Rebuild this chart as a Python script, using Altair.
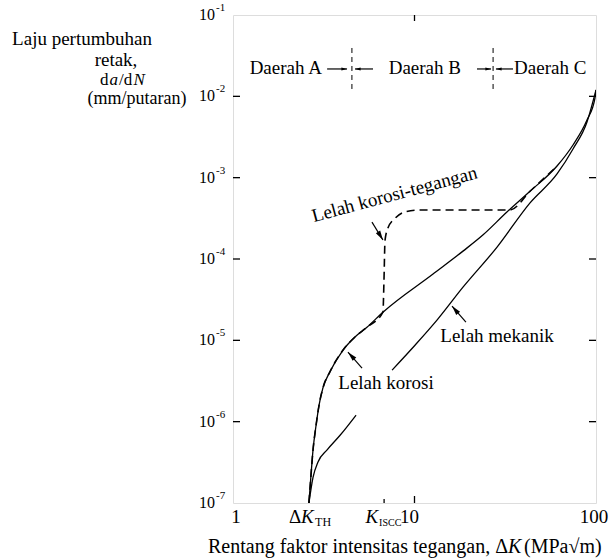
import altair as alt
import pandas as pd

# ---------------- data ----------------
# Lelah korosi (corrosion fatigue), solid
korosi_dK = [2.62, 2.69, 2.76, 2.87, 2.98, 3.13, 3.42, 4.04, 4.70, 5.47, 6.70,
             12.6, 18.5, 23.8, 32.3, 43.3, 61.0, 74.7, 89.2, 98.7, 100]
korosi_rate = [1e-7, 2.2e-7, 4.5e-7, 9.1e-7, 1.6e-6, 2.6e-6, 4.1e-6, 7.6e-6, 1.10e-5,
               1.45e-5, 2.22e-5, 6.5e-5, 1.25e-4, 1.97e-4, 3.78e-4, 6.8e-4, 1.39e-3,
               2.52e-3, 5.1e-3, 9.5e-3, 1.2e-2]

# Lelah mekanik (mechanical fatigue), solid, interrupted by the label
mek_low_dK = [2.62, 2.76, 2.94, 3.30, 3.89, 4.76]
mek_low_rate = [1e-7, 2.07e-7, 3.2e-7, 4.5e-7, 6.8e-7, 1.2e-6]
mek_up_dK = [7.52, 10.06, 13.3, 18.5, 28.5, 43.3, 61.0, 74.7, 89.2, 100]
mek_up_rate = [4.3e-6, 8.7e-6, 1.77e-5, 4.5e-5, 1.40e-4, 4.9e-4, 1.11e-3, 2.25e-3,
               4.83e-3, 1.2e-2]

# Lelah korosi-tegangan (stress-corrosion fatigue), dashed
scc_dK = [2.62, 2.69, 2.76, 2.87, 2.98, 3.13, 3.42, 4.04, 4.70, 5.47, 6.70,
          6.79, 6.88, 7.14, 7.81, 8.87, 10.7, 33.5, 43.3, 61.0]
scc_rate = [1e-7, 2.2e-7, 4.5e-7, 9.1e-7, 1.6e-6, 2.6e-6, 4.1e-6, 7.6e-6, 1.10e-5,
            1.45e-5, 2.22e-5, 5.5e-5, 1.7e-4, 2.4e-4, 3.16e-4, 3.8e-4, 4.0e-4,
            4.0e-4, 6.8e-4, 1.39e-3]

# axes
y_exponents = [-1, -2, -3, -4, -5, -6, -7]
y_inner_ticks = [1e-2, 1e-3, 1e-4, 1e-5, 1e-6]
dK_TH = 2.66
K_ISCC = 6.8
x_plain_labels = ["1", "10", "100"]
x_plain_values = [1, 10, 100]

# regions
region_bounds = [4.52, 27.1]
region_line_top = 0.0393
region_line_bottom = 0.012
region_label_rate = 0.0188
region_arrow_rate = 0.0217
daerah_B_dK = 11.4
region_arrow_from = [3.30, 5.91, 22.1, 34.9]
region_arrow_to = [4.25, 4.70, 26.4, 28.1]

# annotations
ann_text = ["Lelah  mekanik", "Lelah  korosi"]
ann_dK = [28.5, 6.97]
ann_rate = [9.5e-6, 2.51e-6]
scc_label = "Lelah  korosi-tegangan"
scc_label_dK = 7.91
scc_label_rate = 5.3e-4
arrow_tail_dK = [5.83, 19.2, 5.14]
arrow_tail_rate = [2.84e-4, 1.67e-5, 4.55e-6]
arrow_tip_dK = [6.70, 16.1, 4.30]
arrow_tip_rate = [1.71e-4, 2.64e-5, 7.16e-6]

# ---------------- chart ----------------
F = "Liberation Serif"
W, H = 363, 488
XS = alt.Scale(type="log", domain=[1, 100])
YS = alt.Scale(type="log", domain=[1e-7, 1e-1])


def xq(f="dK"):
    return alt.X(f"{f}:Q", scale=XS, axis=None)


def yq(f="rate"):
    return alt.Y(f"{f}:Q", scale=YS, axis=None)


layers = []


def curve(xs, ys, dash=None, width=1.3):
    kw = dict(color="black", strokeWidth=width, interpolate="monotone", clip=True)
    if dash:
        kw["strokeDash"] = dash
    return alt.Chart(pd.DataFrame({"dK": xs, "rate": ys})).mark_line(**kw).encode(
        x=xq(), y=yq())


layers.append(curve(korosi_dK, korosi_rate))
layers.append(curve(mek_low_dK, mek_low_rate))
layers.append(curve(mek_up_dK, mek_up_rate))
layers.append(curve(scc_dK, scc_rate, dash=[8, 5], width=1.6))

# inward ticks
tick_df = pd.DataFrame({"rate": y_inner_ticks})
layers.append(alt.Chart(tick_df).mark_rule(color="black", strokeWidth=1.3).encode(
    y=yq(), x=alt.value(0), x2=alt.value(7)))
layers.append(alt.Chart(tick_df).mark_rule(color="black", strokeWidth=1.3).encode(
    y=yq(), x=alt.value(W - 7), x2=alt.value(W)))
layers.append(alt.Chart(pd.DataFrame({"dK": [10]})).mark_rule(color="black", strokeWidth=1.3).encode(
    x=xq(), y=alt.value(H), y2=alt.value(H - 7)))
layers.append(alt.Chart(pd.DataFrame({"dK": [K_ISCC]})).mark_rule(color="black", strokeWidth=1.3).encode(
    x=xq(), y=alt.value(H), y2=alt.value(H - 4)))
layers.append(alt.Chart(pd.DataFrame({"dK": [10]})).mark_rule(color="black", strokeWidth=1.3).encode(
    x=xq(), y=alt.value(0), y2=alt.value(6)))

# y tick labels 10^n
ydf = pd.DataFrame({"rate": [10.0 ** e for e in y_exponents],
                    "base": ["10"] * len(y_exponents),
                    "sup": [str(e) for e in y_exponents]})
layers.append(alt.Chart(ydf).mark_text(font=F, fontSize=16, align="right", baseline="middle").encode(
    y=yq(), x=alt.value(-18), text="base:N"))
layers.append(alt.Chart(ydf).mark_text(font=F, fontSize=11, align="left", baseline="middle", dy=-7).encode(
    y=yq(), x=alt.value(-17), text="sup:N"))

# x tick labels
xl_y = H + 20
for lab, val, dx in zip(x_plain_labels, x_plain_values, [3, -5, -2]):
    layers.append(alt.Chart(pd.DataFrame({"dK": [val], "t": [lab]})).mark_text(
        font=F, fontSize=19, align="center", baseline="alphabetic", dx=dx).encode(
        x=xq(), y=alt.value(xl_y), text="t:N"))
layers.append(alt.Chart(pd.DataFrame({"dK": [dK_TH], "t": ["Δ"]})).mark_text(
    font=F, fontSize=19, align="right", baseline="alphabetic", dx=-9).encode(
    x=xq(), y=alt.value(xl_y), text="t:N"))
layers.append(alt.Chart(pd.DataFrame({"dK": [dK_TH], "t": ["K"]})).mark_text(
    font=F, fontSize=19, fontStyle="italic", align="left", baseline="alphabetic", dx=-9).encode(
    x=xq(), y=alt.value(xl_y), text="t:N"))
layers.append(alt.Chart(pd.DataFrame({"dK": [dK_TH], "t": ["TH"]})).mark_text(
    font=F, fontSize=12, align="left", baseline="alphabetic", dx=5, dy=3).encode(
    x=xq(), y=alt.value(xl_y), text="t:N"))
layers.append(alt.Chart(pd.DataFrame({"dK": [K_ISCC], "t": ["K"]})).mark_text(
    font=F, fontSize=19, fontStyle="italic", align="right", baseline="alphabetic", dx=-6).encode(
    x=xq(), y=alt.value(xl_y), text="t:N"))
layers.append(alt.Chart(pd.DataFrame({"dK": [K_ISCC], "t": ["ISCC"]})).mark_text(
    font=F, fontSize=10, align="left", baseline="alphabetic", dx=-5, dy=3).encode(
    x=xq(), y=alt.value(xl_y), text="t:N"))

# x axis title
tt_y = H + 50
layers.append(alt.Chart(pd.DataFrame({"t": ["Rentang faktor intensitas tegangan,  Δ"]})).mark_text(
    font=F, fontSize=20, align="right", baseline="alphabetic").encode(
    x=alt.value(275), y=alt.value(tt_y), text="t:N"))
layers.append(alt.Chart(pd.DataFrame({"t": ["K"]})).mark_text(
    font=F, fontSize=20, fontStyle="italic", align="left", baseline="alphabetic").encode(
    x=alt.value(275), y=alt.value(tt_y), text="t:N"))
layers.append(alt.Chart(pd.DataFrame({"t": ["(MPa√m)"]})).mark_text(
    font=F, fontSize=20, align="left", baseline="alphabetic").encode(
    x=alt.value(291), y=alt.value(tt_y), text="t:N"))

# y axis title (block left of the axis)
for t, xv, yv, fs in [("Laju  pertumbuhan", -151, 30, 19), ("retak,", -117, 51, 19),
                      ("(mm/putaran)", -96, 89, 18)]:
    layers.append(alt.Chart(pd.DataFrame({"t": [t]})).mark_text(
        font=F, fontSize=fs, align="center", baseline="alphabetic").encode(
        x=alt.value(xv), y=alt.value(yv), text="t:N"))
for t, xv, ital in [("d", -133, False), ("a", -123.5, True), ("/d", -114, False), ("N", -99.5, True)]:
    kw = dict(font=F, fontSize=17, align="left", baseline="alphabetic")
    if ital:
        kw["fontStyle"] = "italic"
    layers.append(alt.Chart(pd.DataFrame({"t": [t]})).mark_text(**kw).encode(
        x=alt.value(xv), y=alt.value(70), text="t:N"))

# regions
bdf = pd.DataFrame({"dK": region_bounds, "top": [region_line_top] * 2,
                    "bot": [region_line_bottom] * 2})
layers.append(alt.Chart(bdf).mark_rule(color="black", strokeWidth=1, strokeDash=[5, 4]).encode(
    x=xq(), y=yq("top"), y2="bot:Q"))


def rtext(x, t, align, dx=0, size=19):
    return alt.Chart(pd.DataFrame({"dK": [x], "rate": [region_label_rate], "t": [t]})).mark_text(
        font=F, fontSize=size, baseline="alphabetic", align=align, dx=dx).encode(
        x=xq(), y=yq(), text="t:N")


layers.append(rtext(region_bounds[0], "Daerah  A", "right", -30))
layers.append(rtext(daerah_B_dK, "Daerah  B", "center"))
layers.append(rtext(region_bounds[1], "Daerah  C", "left", 21))

rad = pd.DataFrame({"x1": region_arrow_from, "x2": region_arrow_to,
                    "rate": [region_arrow_rate] * 4})
layers.append(alt.Chart(rad).mark_rule(color="black", strokeWidth=1.2).encode(
    x=xq("x1"), x2="x2:Q", y=yq()))
SMALL_HEAD = "M0,0 L0.45,1.6 L-0.45,1.6 Z"
for i, ang in enumerate([90, 270, 90, 270]):
    layers.append(alt.Chart(rad.iloc[[i]]).mark_point(
        shape=SMALL_HEAD, size=50, filled=True, color="black", opacity=1, angle=ang).encode(
        x=xq("x2"), y=yq()))

# annotations
adf = pd.DataFrame({"dK": ann_dK, "rate": ann_rate, "t": ann_text})
layers.append(alt.Chart(adf).mark_text(font=F, fontSize=19, align="center", baseline="alphabetic").encode(
    x=xq(), y=yq(), text="t:N"))
layers.append(alt.Chart(pd.DataFrame({"dK": [scc_label_dK], "rate": [scc_label_rate], "t": [scc_label]})).mark_text(
    font=F, fontSize=19, align="center", baseline="alphabetic", angle=345).encode(
    x=xq(), y=yq(), text="t:N"))

arr = pd.DataFrame({"x1": arrow_tail_dK, "y1": arrow_tail_rate,
                    "x2": arrow_tip_dK, "y2": arrow_tip_rate})
layers.append(alt.Chart(arr).mark_rule(color="black", strokeWidth=1.2).encode(
    x=xq("x1"), y=yq("y1"), x2="x2:Q", y2="y2:Q"))
HEAD = "M0,0 L0.5,1.9 L-0.5,1.9 Z"
for i, ang in enumerate([149, 320, 317]):
    layers.append(alt.Chart(arr.iloc[[i]]).mark_point(
        shape=HEAD, size=100, filled=True, color="black", opacity=1, angle=ang).encode(
        x=xq("x2"), y=yq("y2")))

chart = alt.layer(*layers).properties(
    width=W, height=H,
    padding={"left": 233, "top": 15, "right": 13, "bottom": 57},
    autosize=alt.AutoSizeParams(type="none"),
).configure_view(stroke="black", strokeWidth=1.5).configure(background="white")

chart.save("out.html", embed_options={"renderer": "svg", "actions": False})
